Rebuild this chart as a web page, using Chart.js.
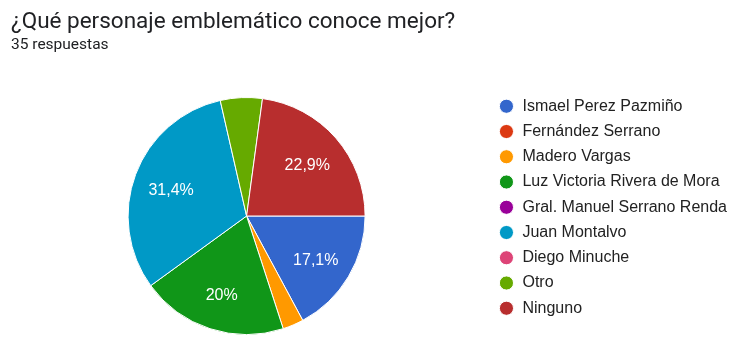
<!DOCTYPE html>
<html lang="es">
<head>
<meta charset="utf-8">
<title>Personaje emblemático</title>
<script src="https://cdn.jsdelivr.net/npm/chart.js@4/dist/chart.umd.min.js"></script>
<style>
  html, body { margin: 0; padding: 0; background: #fff; overflow: hidden; }
  body { width: 729px; height: 337px; position: relative; }
  #titulo {
    position: absolute; left: 11px; top: 7px;
    font: 22.5px/26px Roboto, sans-serif; color: #202124; white-space: nowrap;
  }
  #subtitulo {
    position: absolute; left: 11px; top: 36px;
    font: 15.5px/17px Roboto, sans-serif; color: #202124; white-space: nowrap;
  }
  #contenedor { position: absolute; left: 0; top: 0; width: 729px; height: 343px; }
</style>
</head>
<body>
<div id="contenedor"><canvas id="grafico"></canvas></div>
<div id="titulo">¿Qué personaje emblemático conoce mejor?</div>
<div id="subtitulo">35 respuestas</div>

<script>
const opciones = [
  "Ismael Perez Pazmiño",
  "Fernández Serrano",
  "Madero Vargas",
  "Luz Victoria Rivera de Mora",
  "Gral. Manuel Serrano Renda",
  "Juan Montalvo",
  "Diego Minuche",
  "Otro",
  "Ninguno"
];
const respuestas = [6, 0, 1, 7, 0, 11, 0, 2, 8];
const colores = ["#3366cc", "#dc3912", "#ff9900", "#109618", "#990099", "#0099c6", "#dd4477", "#66aa00", "#b82e2e"];

const total = respuestas.reduce((a, b) => a + b, 0);

function porcentaje(v) {
  const p = Math.round(v / total * 1000) / 10;
  return String(p).replace(".", ",") + "%";
}

// porcentajes en blanco dentro de cada porción (solo las grandes)
const etiquetasPorcion = {
  id: "etiquetasPorcion",
  afterDatasetsDraw(chart) {
    const ctx = chart.ctx;
    const meta = chart.getDatasetMeta(0);
    ctx.save();
    ctx.font = "16px 'Liberation Sans', Arial, sans-serif";
    ctx.fillStyle = "#ffffff";
    ctx.textAlign = "center";
    ctx.textBaseline = "middle";
    meta.data.forEach((arc, i) => {
      const v = respuestas[i];
      if (v / total < 0.1) return;
      const p = arc.getProps(["x", "y", "startAngle", "endAngle", "outerRadius"], true);
      const medio = (p.startAngle + p.endAngle) / 2;
      const d = p.outerRadius * 0.68;
      ctx.fillText(porcentaje(v), p.x + Math.cos(medio) * d, p.y + Math.sin(medio) * d + 3);
    });
    ctx.restore();
  }
};

new Chart(document.getElementById("grafico"), {
  type: "pie",
  data: {
    labels: opciones,
    datasets: [{
      data: respuestas,
      backgroundColor: colores,
      borderColor: "#ffffff",
      borderWidth: 1,
      radius: 118.5
    }]
  },
  options: {
    responsive: true,
    maintainAspectRatio: false,
    animation: false,
    rotation: 90,
    layout: { padding: { left: 4, right: -8, top: 89, bottom: 0 } },
    plugins: {
      tooltip: { enabled: false },
      legend: {
        position: "right",
        align: "start",
        labels: {
          usePointStyle: true,
          pointStyle: "circle",
          boxWidth: 16,
          boxHeight: 10,
          padding: 9.25,
          color: "#222222",
          font: { family: "'Liberation Sans', Arial, sans-serif", size: 16 }
        }
      }
    }
  },
  plugins: [etiquetasPorcion]
});
</script>
</body>
</html>
